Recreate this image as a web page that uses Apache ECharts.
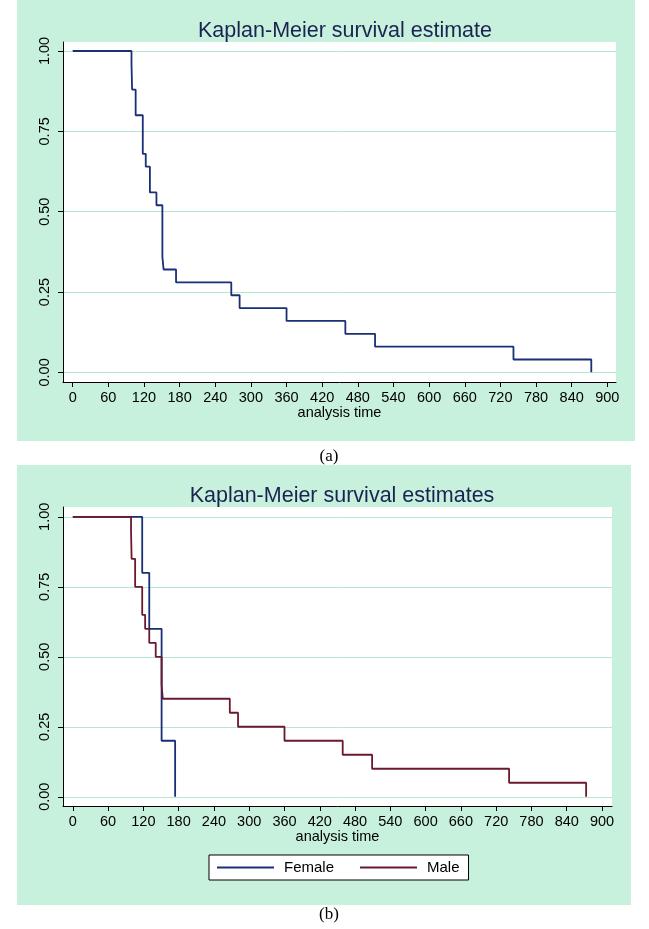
<!DOCTYPE html>
<html><head><meta charset="utf-8">
<script src="https://cdn.jsdelivr.net/npm/echarts@6/dist/echarts.min.js"></script>
<style>html,body{margin:0;padding:0;background:#fff}#c{width:649px;height:929px}</style>
</head><body><div id="c"></div>
<script>
const xTicks = [0,60,120,180,240,300,360,420,480,540,600,660,720,780,840,900];
const yTicks = [0,0.25,0.5,0.75,1];
const allTime = [0,99,100,106,118,123,130,141,151,153,174,267,281,360,459,509,742,873];
const allSurv = [1,0.96,0.88,0.80,0.68,0.64,0.56,0.52,0.36,0.32,0.28,0.24,0.20,0.16,0.12,0.08,0.04,0.00];
const femaleTime = [0,118,130,151,174];
const femaleSurv = [1,0.80,0.60,0.20,0.00];
const maleTime = [0,99,100,106,118,123,130,141,151,153,267,281,360,459,509,742,873];
const maleSurv = [1,0.95,0.85,0.75,0.65,0.60,0.55,0.50,0.40,0.35,0.30,0.25,0.20,0.15,0.10,0.05,0.00];

const FONT = 'Liberation Sans';
const GREEN = '#c7f0dd';
const BLUE = '#1a2f76';
const RED = '#6b1a2e';
const zip = (a,b) => a.map((t,i)=>[t,b[i]]);

function xAx(gi,min,max){
  return {type:'value',gridIndex:gi,min:min,max:max,
    axisLine:{show:true,onZero:false,lineStyle:{color:'#000',width:1}},
    axisTick:{show:true,length:5,customValues:xTicks,lineStyle:{color:'#000'}},
    axisLabel:{customValues:xTicks,margin:8,fontSize:14.5,fontFamily:FONT,color:'#000'},
    splitLine:{show:false},
    name:'analysis time',nameLocation:'middle',nameGap:23,
    nameTextStyle:{fontSize:14.5,fontFamily:FONT,color:'#000'}};
}
function yAx(gi,min,max){
  return {type:'value',gridIndex:gi,min:min,max:max,
    axisLine:{show:true,onZero:false,lineStyle:{color:'#000',width:1}},
    axisTick:{show:true,length:5,customValues:yTicks,lineStyle:{color:'#000'}},
    axisLabel:{customValues:yTicks,rotate:90,margin:11,fontSize:14.5,fontFamily:FONT,color:'#000',
      formatter:v=>v.toFixed(2)},
    splitLine:{show:true,lineStyle:{color:'#b4e9d1',width:1}}};
}

const chart = echarts.init(document.getElementById('c'));
chart.setOption({
  animation:false,
  graphic:[
    {type:'rect',z:-10,shape:{x:17,y:0,width:618,height:441},style:{fill:GREEN}},
    {type:'rect',z:-10,shape:{x:17,y:465,width:614,height:440},style:{fill:GREEN}}
  ],
  title:[
    {text:'Kaplan-Meier survival estimate',left:340,top:15,textAlign:'center',
      textStyle:{fontSize:21.5,fontWeight:'normal',fontFamily:FONT,color:'#1b2350'}},
    {text:'Kaplan-Meier survival estimates',left:337,top:480,textAlign:'center',
      textStyle:{fontSize:21.5,fontWeight:'normal',fontFamily:FONT,color:'#1b2350'}},
    {text:'(a)',left:324,top:443,textAlign:'center',
      textStyle:{fontSize:17,fontWeight:'normal',fontFamily:'Liberation Serif',color:'#000'}},
    {text:'(b)',left:324,top:901,textAlign:'center',
      textStyle:{fontSize:17,fontWeight:'normal',fontFamily:'Liberation Serif',color:'#000'}}
  ],
  grid:[
    {left:63,top:42,width:553,height:340,show:true,backgroundColor:'#fff',borderWidth:0},
    {left:63,top:507,width:549,height:299,show:true,backgroundColor:'#fff',borderWidth:0}
  ],
  xAxis:[xAx(0,-16.3,914.6),xAx(1,-16.7,917)],
  yAxis:[yAx(0,-0.030,1.028),yAx(1,-0.033,1.035)],
  legend:{data:['Female','Male'],left:209,top:855,itemWidth:57,itemHeight:10,itemGap:25,
    backgroundColor:'#fff',borderColor:'#000',borderWidth:1,padding:[5,9,5,7],
    itemStyle:{opacity:0},
    textStyle:{fontSize:15,fontFamily:FONT,color:'#000',padding:[0,0,0,5]}},
  series:[
    {name:'All',type:'line',step:'end',xAxisIndex:0,yAxisIndex:0,symbol:'none',
      data:zip(allTime,allSurv),lineStyle:{color:BLUE,width:1.8},itemStyle:{color:BLUE}},
    {name:'Female',type:'line',step:'end',xAxisIndex:1,yAxisIndex:1,symbol:'none',
      data:zip(femaleTime,femaleSurv),lineStyle:{color:BLUE,width:1.8},itemStyle:{color:BLUE}},
    {name:'Male',type:'line',step:'end',xAxisIndex:1,yAxisIndex:1,symbol:'none',
      data:zip(maleTime,maleSurv),lineStyle:{color:RED,width:1.8},itemStyle:{color:RED}}
  ]
});
</script></body></html>
